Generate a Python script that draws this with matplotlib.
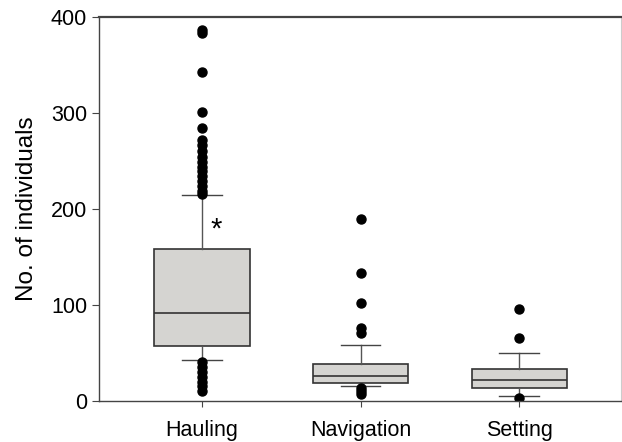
import matplotlib
matplotlib.use("Agg")
import matplotlib.pyplot as plt

# box plot summary
categories = ["Hauling", "Navigation", "Setting"]
q1 = [57, 19, 13]
median = [92, 26, 22]
q3 = [158, 38, 33]
whisker_low = [43, 15, 5]
whisker_high = [214, 58, 50]
outliers = [
    [383, 386, 342, 301, 284, 272, 266, 260, 254, 249, 244, 239, 234, 229,
     224, 219, 215, 40, 35, 30, 25, 20, 15, 10],
    [189, 133, 102, 76, 71, 13, 10, 7],
    [96, 65, 3],
]

plt.rcParams["font.family"] = ["Liberation Sans", "DejaVu Sans"]

fig = plt.figure(figsize=(6.22, 4.42), dpi=100)
ax = fig.add_axes([0.159, 0.093, 0.839, 0.869])

stats = []
for i, name in enumerate(categories):
    stats.append(dict(label=name, q1=q1[i], med=median[i], q3=q3[i],
                      whislo=whisker_low[i], whishi=whisker_high[i],
                      fliers=outliers[i]))

ax.bxp(stats, positions=[1, 2, 3], widths=0.6, patch_artist=True,
       boxprops=dict(facecolor="#d5d4d1", edgecolor="#333333", linewidth=1.2),
       medianprops=dict(color="#333333", linewidth=1.2),
       whiskerprops=dict(color="#555555", linewidth=1.0),
       capprops=dict(color="#444444", linewidth=1.0),
       capwidths=0.25,
       flierprops=dict(marker="o", markerfacecolor="black",
                       markeredgecolor="black", markersize=6.5))

ax.text(1.09, 178, "*", fontsize=21, ha="center", va="center")

ax.set_xlim(0.35, 3.64)
ax.set_ylim(0, 400)
ax.set_yticks([0, 100, 200, 300, 400])
ax.set_ylabel("No. of individuals", fontsize=17.5, labelpad=9)
ax.tick_params(axis="y", labelsize=15.5, direction="out", length=5,
               color="#444444")
ax.tick_params(axis="x", labelsize=15.5, direction="out", length=4,
               color="#444444", pad=10)

for side in ["left", "bottom", "top"]:
    ax.spines[side].set_color("#444444")
    ax.spines[side].set_linewidth(1.0)
ax.spines["top"].set_linewidth(1.6)
ax.spines["right"].set_color("#cccccc")

fig.savefig("out.png", dpi=100)
